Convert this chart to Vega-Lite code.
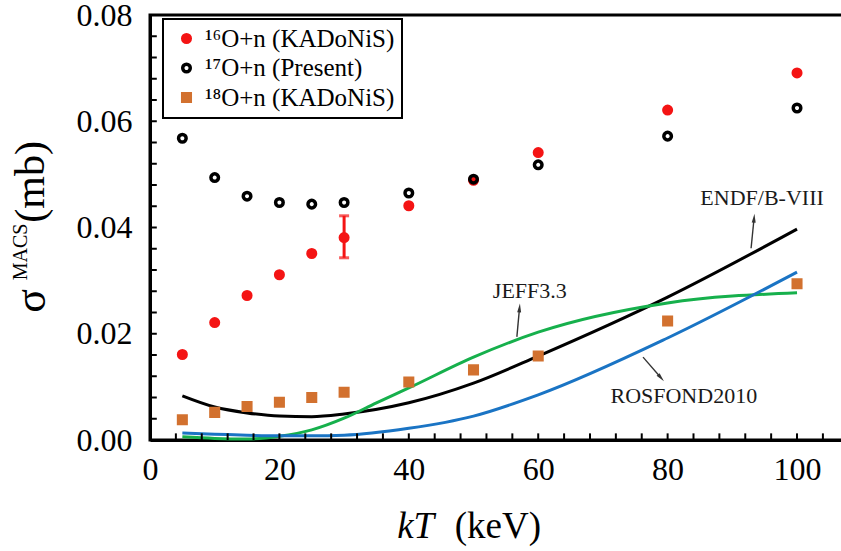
{
  "$schema": "https://vega.github.io/schema/vega-lite/v6.json",
  "width": 694,
  "height": 425,
  "autosize": {"type": "none"},
  "padding": {"left": 150, "top": 15, "right": 0, "bottom": 111},
  "background": "white",
  "config": {
    "view": {"stroke": "black", "strokeWidth": 3},
    "font": "Liberation Serif, Times New Roman, serif",
    "axis": {
      "grid": false,
      "domainColor": "black",
      "domainWidth": 3,
      "ticks": false,
      "labelFont": "Liberation Serif, Times New Roman, serif",
      "labelFontSize": 32,
      "labelColor": "black",
      "labelOverlap": false,
      "labelFlush": false
    },
    "legend": {
      "orient": "none",
      "legendX": 13,
      "legendY": 4,
      "strokeColor": "black",
      "strokeWidth": 2,
      "fillColor": "white",
      "padding": 7,
      "symbolOffset": 4,
      "labelFont": "Liberation Serif, Times New Roman, serif",
      "labelFontSize": 25,
      "labelColor": "black",
      "labelLimit": 0,
      "labelOffset": 6,
      "symbolSize": 57,
      "symbolStrokeWidth": 3.5,
      "rowPadding": 3.5
    }
  },
  "datasets": {
    "points": [
      {"kT": 5, "s": 0.0161, "series": "¹⁶O+n (KADoNiS)"},
      {"kT": 10, "s": 0.0221, "series": "¹⁶O+n (KADoNiS)"},
      {"kT": 15, "s": 0.0272, "series": "¹⁶O+n (KADoNiS)"},
      {"kT": 20, "s": 0.0311, "series": "¹⁶O+n (KADoNiS)"},
      {"kT": 25, "s": 0.0351, "series": "¹⁶O+n (KADoNiS)"},
      {"kT": 30, "s": 0.0381, "series": "¹⁶O+n (KADoNiS)"},
      {"kT": 40, "s": 0.0441, "series": "¹⁶O+n (KADoNiS)"},
      {"kT": 50, "s": 0.0489, "series": "¹⁶O+n (KADoNiS)"},
      {"kT": 60, "s": 0.0541, "series": "¹⁶O+n (KADoNiS)"},
      {"kT": 80, "s": 0.0621, "series": "¹⁶O+n (KADoNiS)"},
      {"kT": 100, "s": 0.0691, "series": "¹⁶O+n (KADoNiS)"},
      {"kT": 5, "s": 0.0568, "series": "¹⁷O+n (Present)"},
      {"kT": 10, "s": 0.0494, "series": "¹⁷O+n (Present)"},
      {"kT": 15, "s": 0.0459, "series": "¹⁷O+n (Present)"},
      {"kT": 20, "s": 0.0447, "series": "¹⁷O+n (Present)"},
      {"kT": 25, "s": 0.0444, "series": "¹⁷O+n (Present)"},
      {"kT": 30, "s": 0.0447, "series": "¹⁷O+n (Present)"},
      {"kT": 40, "s": 0.0465, "series": "¹⁷O+n (Present)"},
      {"kT": 50, "s": 0.0491, "series": "¹⁷O+n (Present)"},
      {"kT": 60, "s": 0.0518, "series": "¹⁷O+n (Present)"},
      {"kT": 80, "s": 0.0572, "series": "¹⁷O+n (Present)"},
      {"kT": 100, "s": 0.0625, "series": "¹⁷O+n (Present)"},
      {"kT": 5, "s": 0.0038, "series": "¹⁸O+n (KADoNiS)"},
      {"kT": 10, "s": 0.0052, "series": "¹⁸O+n (KADoNiS)"},
      {"kT": 15, "s": 0.0063, "series": "¹⁸O+n (KADoNiS)"},
      {"kT": 20, "s": 0.0071, "series": "¹⁸O+n (KADoNiS)"},
      {"kT": 25, "s": 0.0080, "series": "¹⁸O+n (KADoNiS)"},
      {"kT": 30, "s": 0.0090, "series": "¹⁸O+n (KADoNiS)"},
      {"kT": 40, "s": 0.0109, "series": "¹⁸O+n (KADoNiS)"},
      {"kT": 50, "s": 0.0132, "series": "¹⁸O+n (KADoNiS)"},
      {"kT": 60, "s": 0.0158, "series": "¹⁸O+n (KADoNiS)"},
      {"kT": 80, "s": 0.0224, "series": "¹⁸O+n (KADoNiS)"},
      {"kT": 100, "s": 0.0294, "series": "¹⁸O+n (KADoNiS)"}
    ],
    "curves": [
      {"kT": 5, "s": 0.0083, "lib": "ENDF/B-VIII"},
      {"kT": 10, "s": 0.0062, "lib": "ENDF/B-VIII"},
      {"kT": 15, "s": 0.0051, "lib": "ENDF/B-VIII"},
      {"kT": 20, "s": 0.0045, "lib": "ENDF/B-VIII"},
      {"kT": 25, "s": 0.0044, "lib": "ENDF/B-VIII"},
      {"kT": 30, "s": 0.0049, "lib": "ENDF/B-VIII"},
      {"kT": 40, "s": 0.0070, "lib": "ENDF/B-VIII"},
      {"kT": 50, "s": 0.0107, "lib": "ENDF/B-VIII"},
      {"kT": 60, "s": 0.0158, "lib": "ENDF/B-VIII"},
      {"kT": 80, "s": 0.0269, "lib": "ENDF/B-VIII"},
      {"kT": 100, "s": 0.0397, "lib": "ENDF/B-VIII"},
      {"kT": 5, "s": 0.0006, "lib": "JEFF3.3"},
      {"kT": 10, "s": 0.0003, "lib": "JEFF3.3"},
      {"kT": 15, "s": 0.0002, "lib": "JEFF3.3"},
      {"kT": 20, "s": 0.0007, "lib": "JEFF3.3"},
      {"kT": 25, "s": 0.0019, "lib": "JEFF3.3"},
      {"kT": 30, "s": 0.0041, "lib": "JEFF3.3"},
      {"kT": 35, "s": 0.0070, "lib": "JEFF3.3"},
      {"kT": 40, "s": 0.0098, "lib": "JEFF3.3"},
      {"kT": 50, "s": 0.0156, "lib": "JEFF3.3"},
      {"kT": 60, "s": 0.0203, "lib": "JEFF3.3"},
      {"kT": 80, "s": 0.0258, "lib": "JEFF3.3"},
      {"kT": 100, "s": 0.0277, "lib": "JEFF3.3"},
      {"kT": 5, "s": 0.0013, "lib": "ROSFOND2010"},
      {"kT": 10, "s": 0.0011, "lib": "ROSFOND2010"},
      {"kT": 15, "s": 0.0009, "lib": "ROSFOND2010"},
      {"kT": 20, "s": 0.0008, "lib": "ROSFOND2010"},
      {"kT": 25, "s": 0.0008, "lib": "ROSFOND2010"},
      {"kT": 30, "s": 0.0009, "lib": "ROSFOND2010"},
      {"kT": 40, "s": 0.0022, "lib": "ROSFOND2010"},
      {"kT": 50, "s": 0.0045, "lib": "ROSFOND2010"},
      {"kT": 60, "s": 0.0085, "lib": "ROSFOND2010"},
      {"kT": 80, "s": 0.0192, "lib": "ROSFOND2010"},
      {"kT": 100, "s": 0.0316, "lib": "ROSFOND2010"}
    ],
    "errbar": [
      {"kT": 30, "lo": 0.0343, "hi": 0.0422}
    ],
    "notes": [
      {"label": "ENDF/B-VIII", "kT": 94.6, "s": 0.0442, "x0": 92.9, "y0": 0.0361, "x1": 93.35, "y1": 0.0416, "up": true},
      {"label": "JEFF3.3", "kT": 58.7, "s": 0.0267, "x0": 56.7, "y0": 0.0194, "x1": 57.1, "y1": 0.0247, "up": true},
      {"label": "ROSFOND2010", "kT": 82.5, "s": 0.0070, "x0": 76.2, "y0": 0.0156, "x1": 78.9, "y1": 0.0118, "up": false}
    ],
    "xticks": [
      {"kT": 0}, {"kT": 4}, {"kT": 8}, {"kT": 12}, {"kT": 16}, {"kT": 20}, {"kT": 24}, {"kT": 28}, {"kT": 32}, {"kT": 36},
      {"kT": 40}, {"kT": 44}, {"kT": 48}, {"kT": 52}, {"kT": 56}, {"kT": 60}, {"kT": 64}, {"kT": 68}, {"kT": 72}, {"kT": 76},
      {"kT": 80}, {"kT": 84}, {"kT": 88}, {"kT": 92}, {"kT": 96}, {"kT": 100}, {"kT": 104}
    ],
    "yticks": [
      {"s": 0.004}, {"s": 0.008}, {"s": 0.012}, {"s": 0.016}, {"s": 0.02}, {"s": 0.024}, {"s": 0.028}, {"s": 0.032}, {"s": 0.036}, {"s": 0.04},
      {"s": 0.044}, {"s": 0.048}, {"s": 0.052}, {"s": 0.056}, {"s": 0.06}, {"s": 0.064}, {"s": 0.068}, {"s": 0.072}, {"s": 0.076}
    ]
  },
  "layer": [
    {
      "data": {"name": "curves"},
      "mark": {"type": "line", "strokeWidth": 3, "interpolate": "monotone"},
      "encoding": {
        "x": {
          "field": "kT", "type": "quantitative",
          "scale": {"domain": [0, 107.26], "nice": false, "zero": false},
          "axis": {
            "values": [0, 20, 40, 60, 80, 100],
            "labelPadding": 14,
            "labelOverlap": false,
            "labelFlush": false,
            "title": null
          }
        },
        "y": {
          "field": "s", "type": "quantitative",
          "scale": {"domain": [0, 0.08], "nice": false},
          "axis": {
            "values": [0, 0.02, 0.04, 0.06, 0.08],
            "format": ".2f",
            "labelPadding": 18,
            "labelOverlap": false,
            "labelFlush": false,
            "title": null
          }
        },
        "color": {
          "field": "lib", "type": "nominal",
          "scale": {"domain": ["ENDF/B-VIII", "JEFF3.3", "ROSFOND2010"], "range": ["#000000", "#16b04c", "#1a74c4"]},
          "legend": null
        }
      }
    },
    {
      "data": {"name": "xticks"},
      "mark": {"type": "rule", "color": "black", "strokeWidth": 2},
      "encoding": {
        "x": {"field": "kT", "type": "quantitative"},
        "y": {"datum": 0, "type": "quantitative"},
        "y2": {"datum": 0.00125}
      }
    },
    {
      "data": {"name": "yticks"},
      "mark": {"type": "rule", "color": "black", "strokeWidth": 2},
      "encoding": {
        "y": {"field": "s", "type": "quantitative"},
        "x": {"datum": 0, "type": "quantitative"},
        "x2": {"datum": 1.05}
      }
    },
    {
      "data": {"name": "errbar"},
      "mark": {"type": "rule", "color": "#f41414", "strokeWidth": 3},
      "encoding": {
        "x": {"field": "kT", "type": "quantitative"},
        "y": {"field": "lo", "type": "quantitative"},
        "y2": {"field": "hi"}
      }
    },
    {
      "data": {"name": "errbar"},
      "transform": [{"fold": ["lo", "hi"], "as": ["end", "v"]}],
      "mark": {"type": "tick", "orient": "horizontal", "color": "#f41414", "thickness": 3, "size": 10},
      "encoding": {
        "x": {"field": "kT", "type": "quantitative"},
        "y": {"field": "v", "type": "quantitative"}
      }
    },
    {
      "data": {"name": "points"},
      "mark": {"type": "point", "filled": false, "size": 57, "strokeWidth": 3.5, "opacity": 1},
      "encoding": {
        "x": {"field": "kT", "type": "quantitative"},
        "y": {"field": "s", "type": "quantitative"},
        "fill": {
          "field": "series", "type": "nominal",
          "scale": {"domain": ["¹⁶O+n (KADoNiS)", "¹⁷O+n (Present)", "¹⁸O+n (KADoNiS)"], "range": ["#f41414", "transparent", "#d2712f"]},
          "legend": {"title": null}
        },
        "stroke": {
          "field": "series", "type": "nominal",
          "scale": {"domain": ["¹⁶O+n (KADoNiS)", "¹⁷O+n (Present)", "¹⁸O+n (KADoNiS)"], "range": ["#f41414", "#000000", "#d2712f"]},
          "legend": {"title": null}
        },
        "shape": {
          "field": "series", "type": "nominal",
          "scale": {"domain": ["¹⁶O+n (KADoNiS)", "¹⁷O+n (Present)", "¹⁸O+n (KADoNiS)"], "range": ["circle", "circle", "square"]},
          "legend": {"title": null}
        }
      }
    },
    {
      "data": {"name": "notes"},
      "mark": {"type": "rule", "color": "#333333", "strokeWidth": 1.4},
      "encoding": {
        "x": {"field": "x0", "type": "quantitative"},
        "y": {"field": "y0", "type": "quantitative"},
        "x2": {"field": "x1"},
        "y2": {"field": "y1"}
      }
    },
    {
      "data": {"name": "notes"},
      "transform": [{"filter": "datum.up"}],
      "mark": {"type": "point", "shape": "M0,-1L0.38,0.7L-0.38,0.7Z", "filled": true, "color": "#333333", "size": 110, "angle": 5, "opacity": 1},
      "encoding": {
        "x": {"field": "x1", "type": "quantitative"},
        "y": {"field": "y1", "type": "quantitative"}
      }
    },
    {
      "data": {"name": "notes"},
      "transform": [{"filter": "!datum.up"}],
      "mark": {"type": "point", "shape": "M0,-1L0.38,0.7L-0.38,0.7Z", "filled": true, "color": "#333333", "size": 110, "angle": 139, "opacity": 1},
      "encoding": {
        "x": {"field": "x1", "type": "quantitative"},
        "y": {"field": "y1", "type": "quantitative"}
      }
    },
    {
      "data": {"name": "notes"},
      "mark": {"type": "text", "font": "Liberation Serif, Times New Roman, serif", "fontSize": 22, "color": "#1a1a1a", "align": "center", "baseline": "alphabetic"},
      "encoding": {
        "x": {"field": "kT", "type": "quantitative"},
        "y": {"field": "s", "type": "quantitative"},
        "text": {"field": "label"}
      }
    },
    {
      "data": {"values": [{}]},
      "mark": {"type": "text", "text": "kT", "font": "Liberation Serif, Times New Roman, serif", "fontStyle": "italic", "fontSize": 37, "color": "black", "align": "left", "baseline": "alphabetic"},
      "encoding": {
        "x": {"datum": 38.2, "type": "quantitative"},
        "y": {"datum": -0.01845, "type": "quantitative"}
      }
    },
    {
      "data": {"values": [{}]},
      "mark": {"type": "text", "text": "(keV)", "font": "Liberation Serif, Times New Roman, serif", "fontSize": 37, "color": "black", "align": "left", "baseline": "alphabetic"},
      "encoding": {
        "x": {"datum": 47.1, "type": "quantitative"},
        "y": {"datum": -0.01845, "type": "quantitative"}
      }
    },
    {
      "data": {"values": [{}]},
      "mark": {"type": "text", "text": "σ", "font": "Liberation Serif, Times New Roman, serif", "fontSize": 44, "color": "black", "align": "center", "baseline": "alphabetic", "angle": 270},
      "encoding": {
        "x": {"datum": -16.2, "type": "quantitative"},
        "y": {"datum": 0.0262, "type": "quantitative"}
      }
    },
    {
      "data": {"values": [{}]},
      "mark": {"type": "text", "text": "MACS", "font": "Liberation Serif, Times New Roman, serif", "fontSize": 20, "color": "black", "align": "center", "baseline": "alphabetic", "angle": 270},
      "encoding": {
        "x": {"datum": -19.0, "type": "quantitative"},
        "y": {"datum": 0.0354, "type": "quantitative"}
      }
    },
    {
      "data": {"values": [{}]},
      "mark": {"type": "text", "text": "(mb)", "font": "Liberation Serif, Times New Roman, serif", "fontSize": 42, "color": "black", "align": "center", "baseline": "alphabetic", "angle": 270},
      "encoding": {
        "x": {"datum": -16.4, "type": "quantitative"},
        "y": {"datum": 0.0486, "type": "quantitative"}
      }
    }
  ]
}
